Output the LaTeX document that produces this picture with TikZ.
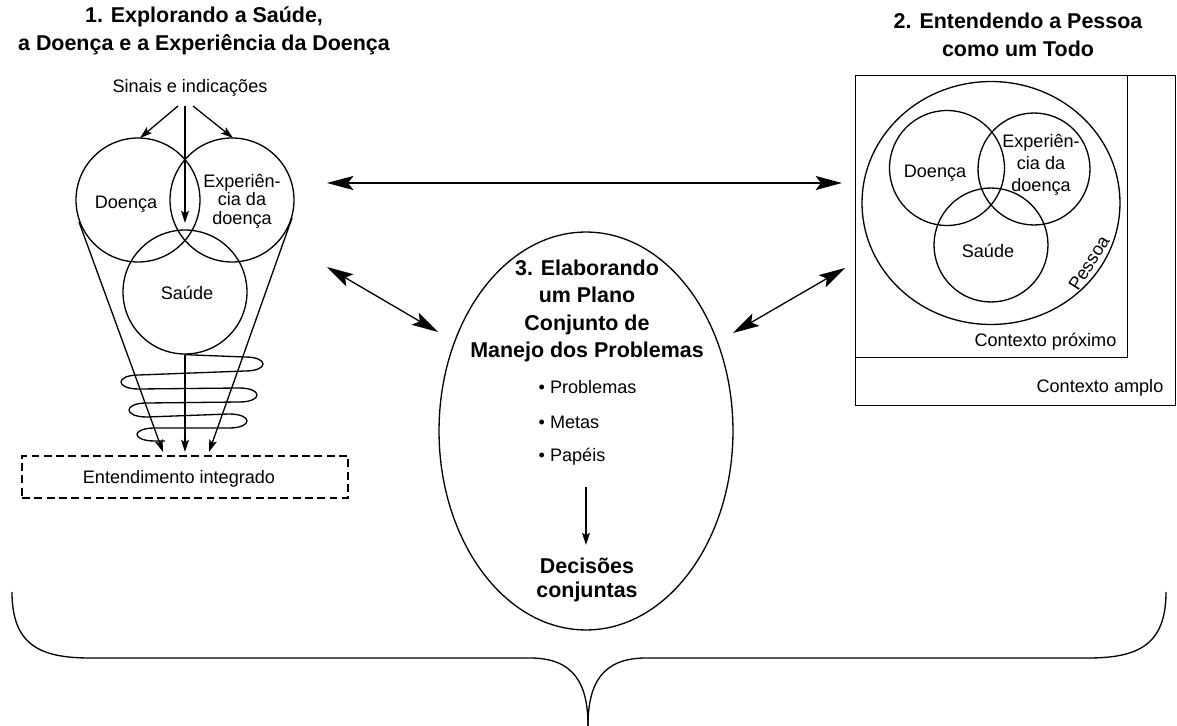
\documentclass[tikz,border=0pt]{standalone}
\usepackage{fontspec}
\setmainfont{Liberation Sans}
\usetikzlibrary{arrows.meta,shapes.geometric}
\begin{document}
\begin{tikzpicture}[x=0.02cm,y=-0.02cm,
  line width=0.75pt,
  lbl/.style={font=\fontsize{10.3}{12}\selectfont, inner sep=0pt, align=center},
  ttl/.style={font=\fontsize{12.2}{15.8}\selectfont\bfseries, inner sep=0pt, align=center},
  ring/.style={draw, circle, inner sep=0pt},
  bigarrow/.style={{Stealth[length=15pt,width=8pt,inset=3pt]}-{Stealth[length=15pt,width=8pt,inset=3pt]}},
  smallarrow/.style={-{Stealth[length=7pt,width=4.5pt,inset=1.5pt]}},
]
\useasboundingbox (0,0) rectangle (1177,726);

% ---------- 1. health, disease and illness experience ----------
\node[ttl] (t1) at (204,31) {1. Explorando a Saúde,\\a Doença e a Experiência da Doença};
\node[lbl] (sinais) at (190,88) {Sinais e indicações};

\node[ring, minimum size=2.48cm] (doenca) at (138,200) {};
\node[ring, minimum size=2.48cm] (exper) at (232,200) {};
\node[ring, minimum size=2.48cm] (saude) at (185,292) {};

\node[lbl] (ldoenca) at (126,204) {Doença};
\node[lbl, font=\fontsize{10.3}{10.5}\selectfont] (lexper) at (242,201) {Experiên-\\cia da\\doença};
\node[lbl] (lsaude) at (187,293) {Saúde};

\coordinate (s1) at (178,106);
\coordinate (s2) at (185,106);
\coordinate (s3) at (193,106);
\coordinate (d1) at (140,138);
\coordinate (d2) at (185,223);
\coordinate (d3) at (233,138);
\draw[smallarrow] (s1) -- (d1);
\draw[smallarrow] (s2) -- (d2);
\draw[smallarrow] (s3) -- (d3);

% funnel towards the integrated understanding
\node[draw, dash pattern=on 4.5pt off 2.5pt, inner sep=0pt,
      minimum width=6.52cm, minimum height=0.84cm] (integ) at (185,477) {};
\node[lbl] (linteg) at (179,479) {Entendimento integrado};

\coordinate (c1) at (79,222);
\coordinate (c3) at (292,218);
\coordinate (e1) at (163,452);
\coordinate (e2) at (185,452);
\coordinate (e3) at (209,452);
\draw[smallarrow] (c1) -- (e1);
\draw[smallarrow] (saude.south) -- (e2);
\draw[smallarrow] (c3) -- (e3);

% spiral winding down the funnel
\draw (saude.south) -- (245,357)
  .. controls (269,357) and (269,371) .. (245,371) -- (139,375)
  .. controls (115,375) and (115,389) .. (139,389) -- (239,388)
  .. controls (263,388) and (263,402) .. (239,402) -- (147,403)
  .. controls (123,403) and (123,417) .. (147,417) -- (229,414)
  .. controls (253,414) and (253,428) .. (229,428) -- (155,428)
  .. controls (131,428) and (131,441) .. (155,441) -- (165,441);

% ---------- 2. the whole person ----------
\node[ttl] (t2) at (1018,35) {2. Entendendo a Pessoa\\como um Todo};
\node[draw, inner sep=0pt, minimum width=6.4cm, minimum height=6.6cm,
      anchor=north west] (amplo) at (855,75) {};
\node[draw, inner sep=0pt, minimum width=5.44cm, minimum height=5.64cm,
      anchor=north west] (proximo) at (855,75) {};
\node[lbl, anchor=east] (lproximo) at (1117,342) {Contexto próximo};
\node[lbl, anchor=east] (lamplo) at (1164,388) {Contexto amplo};

\node[draw, ellipse, inner sep=0pt, minimum width=5.16cm, minimum height=4.86cm] (pessoa) at (991,203) {};
\node[lbl, rotate=58] (lpessoa) at (1089,263) {Pessoa};

\node[ring, minimum size=2.3cm] (doenca2) at (947,168) {};
\node[ring, minimum size=2.24cm] (exper2) at (1034,169) {};
\node[ring, minimum size=2.28cm] (saude2) at (991,245) {};
\node[lbl] (ldoenca2) at (935,173) {Doença};
\node[lbl, font=\fontsize{10.3}{12.6}\selectfont] (lexper2) at (1041,165) {Experiên-\\cia da\\doença};
\node[lbl] (lsaude2) at (988,251) {Saúde};

% ---------- 3. shared management plan ----------
\node[draw, ellipse, inner sep=0pt, minimum width=5.88cm, minimum height=7.96cm] (plano) at (586,431) {};
\node[ttl, font=\fontsize{12.2}{15.5}\selectfont\bfseries] (t3) at (587,311)
  {3. Elaborando\\um Plano\\Conjunto de\\Manejo dos Problemas};
\node[lbl, anchor=west] (b1) at (538,387) {• Problemas};
\node[lbl, anchor=west] (b2) at (538,422) {• Metas};
\node[lbl, anchor=west] (b3) at (538,457) {• Papéis};
\coordinate (p1) at (586,487);
\coordinate (p2) at (586,545);
\draw[smallarrow] (p1) -- (p2);
\node[ttl, font=\fontsize{12.2}{13.6}\selectfont\bfseries] (dec) at (587,580) {Decisões\\conjuntas};

% ---------- links between the three components ----------
\coordinate (h1) at (327,183);
\coordinate (h2) at (842,183);
\draw[bigarrow] (h1) -- (h2);
\coordinate (l1) at (327,267);
\coordinate (l2) at (438,332);
\draw[bigarrow] (l1) -- (l2);
\coordinate (r1) at (733,333);
\coordinate (r2) at (845,268);
\draw[bigarrow] (r1) -- (r2);

% ---------- brace gathering everything ----------
\coordinate (bl) at (12,592);
\coordinate (br) at (1166,592);
\coordinate (bt) at (588,726);
\draw (bl) .. controls (12,645) and (40,658) .. (90,658) -- (530,658)
      .. controls (575,658) and (588,685) .. (bt);
\draw (br) .. controls (1166,645) and (1138,658) .. (1088,658) -- (646,658)
      .. controls (601,658) and (588,685) .. (bt);
\end{tikzpicture}
\end{document}
